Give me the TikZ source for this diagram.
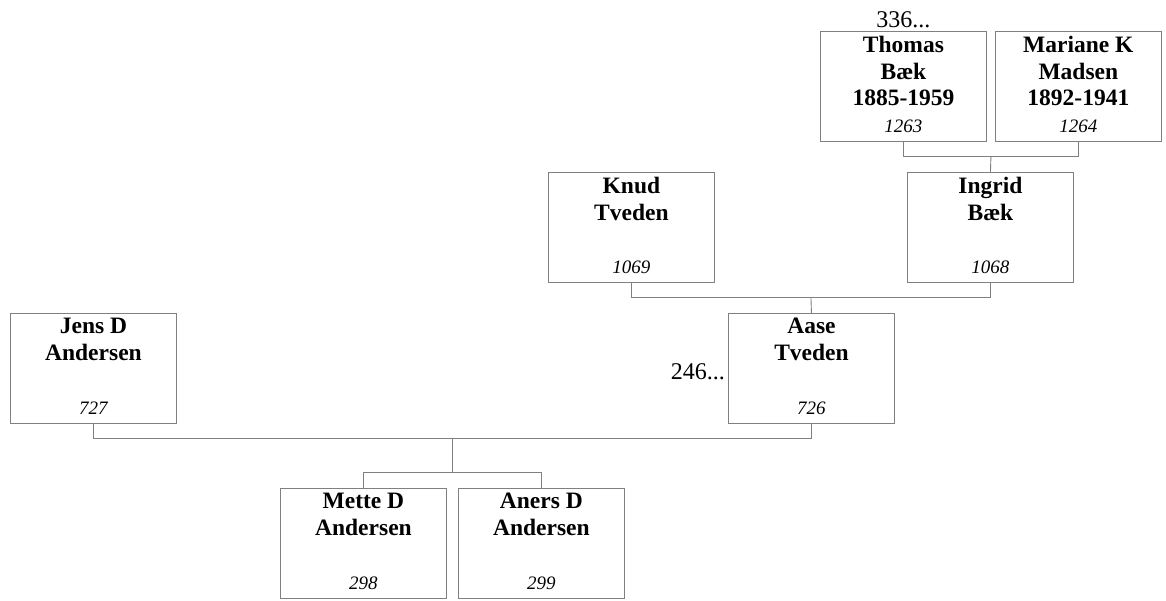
\documentclass[tikz,border=0pt]{standalone}
\usepackage{fontspec}
\setmainfont{Liberation Serif}
\usetikzlibrary{positioning,calc}
\definecolor{tline}{HTML}{808080}
\tikzset{
  pbox/.style={draw=tline, line width=0.9pt, minimum width=166pt, minimum height=110pt,
               anchor=north west, inner sep=0pt},
  pname/.style={align=center, font=\fontsize{23.5}{26.5}\selectfont\bfseries, inner sep=0pt},
  pid/.style={font=\fontsize{19}{22}\selectfont\itshape, inner sep=0pt, anchor=base},
  more/.style={font=\fontsize{24}{28}\selectfont, inner sep=0pt},
  link/.style={draw=tline, line width=0.9pt},
}
\begin{document}
\begin{tikzpicture}[x=1pt, y=-1pt]
  \useasboundingbox (0,0) rectangle (1166,600);
  % generation 1
  \node[pbox] (thomas) at (820,31) {};
  \node[pbox, right=8pt of thomas] (mariane) {};
  % generation 2
  \node[pbox] (knud) at (548,172) {};
  \node[pbox] (ingrid) at (907,172) {};
  % generation 3
  \node[pbox] (jens) at (10,313) {};
  \node[pbox] (aase) at (728,313) {};
  % children
  \node[pbox] (mette) at (280,488) {};
  \node[pbox, right=11pt of mette] (aners) {};

  \node[pname, below=5pt of thomas.north] (thomasname) {Thomas\\Bæk\\1885-1959};
  \node[pname, below=5pt of mariane.north] (marianename) {Mariane K\\Madsen\\1892-1941};
  \node[pname, below=5pt of knud.north] (knudname) {Knud\\Tveden};
  \node[pname, below=5pt of ingrid.north] (ingridname) {Ingrid\\Bæk};
  \node[pname, below=5pt of jens.north] (jensname) {Jens D\\Andersen};
  \node[pname, below=5pt of aase.north] (aasename) {Aase\\Tveden};
  \node[pname, below=5pt of mette.north] (mettename) {Mette D\\Andersen};
  \node[pname, below=5pt of aners.north] (anersname) {Aners D\\Andersen};

  \node[pid] (thomasid) at ([yshift=9pt]thomas.south) {1263};
  \node[pid] (marianeid) at ([yshift=9pt]mariane.south) {1264};
  \node[pid] (knudid) at ([yshift=9pt]knud.south) {1069};
  \node[pid] (ingridid) at ([yshift=9pt]ingrid.south) {1068};
  \node[pid] (jensid) at ([yshift=9pt]jens.south) {727};
  \node[pid] (aaseid) at ([yshift=9pt]aase.south) {726};
  \node[pid] (metteid) at ([yshift=9pt]mette.south) {298};
  \node[pid] (anersid) at ([yshift=9pt]aners.south) {299};

  \node[more, anchor=base] (thomasmore) at ([yshift=4pt]thomas.north) {336...};
  \node[more, anchor=base east] (aasemore) at ([xshift=-3pt,yshift=-11pt]aase.west) {246...};

  % family lines
  \coordinate (tm) at ($(thomas.south)!0.5!(mariane.south)+(0,15)$);
  \coordinate (ki) at ($(knud.south)!0.5!(ingrid.south)+(0,15)$);
  \coordinate (ja) at ($(jens.south)!0.5!(aase.south)+(0,15)$);
  \coordinate (kids) at ($(ja)+(0,34)$);
  \draw[link] (thomas.south) |- (tm) -| (mariane.south);
  \draw[link] (tm) -- (ingrid.north);
  \draw[link] (knud.south) |- (ki) -| (ingrid.south);
  \draw[link] (ki) -- (aase.north);
  \draw[link] (jens.south) |- (ja) -| (aase.south);
  \draw[link] (ja) -- (kids);
  \draw[link] (mette.north) |- (kids) -| (aners.north);
\end{tikzpicture}
\end{document}
